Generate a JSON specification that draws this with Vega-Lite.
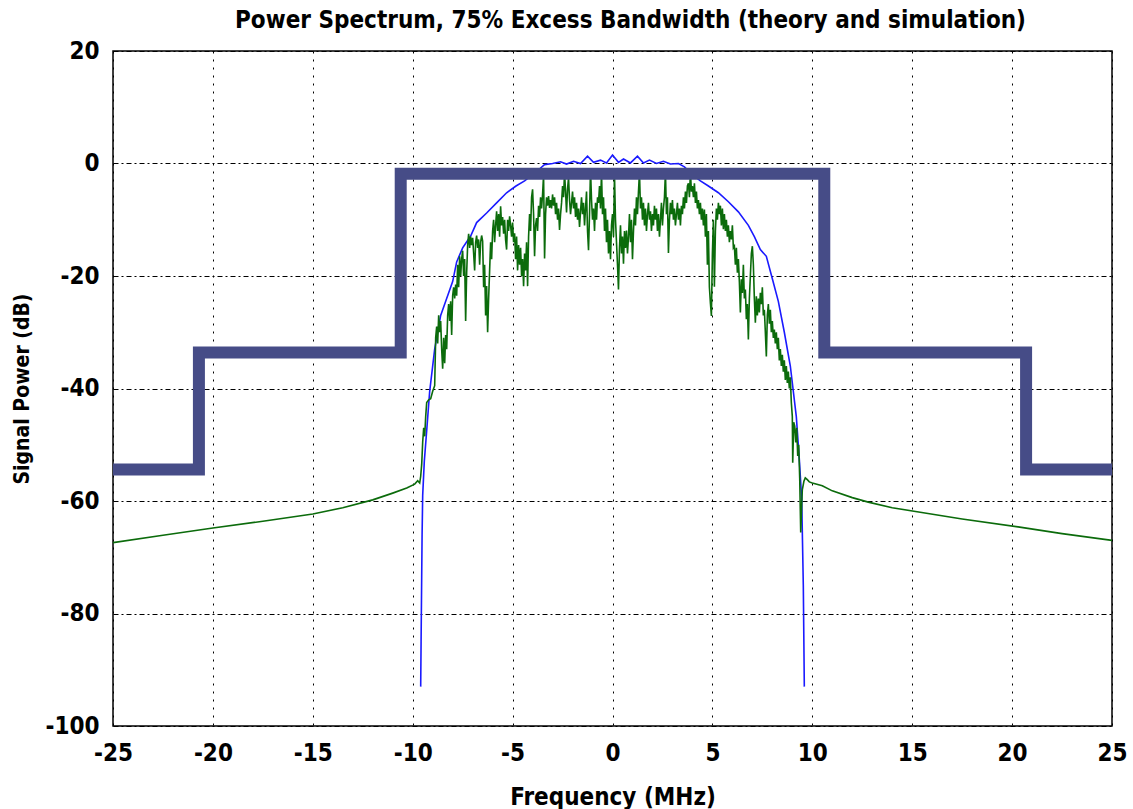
{
  "$schema": "https://vega.github.io/schema/vega-lite/v6.json",
  "autosize": {"type": "none"},
  "width": 999,
  "height": 675,
  "padding": {"left": 113, "top": 51, "right": 21, "bottom": 83},
  "background": "white",
  "config": {
    "font": "DejaVu Sans Condensed, DejaVu Sans, sans-serif",
    "view": {"stroke": "black", "strokeWidth": 1.5},
    "axis": {
      "domain": false,
      "ticks": false,
      "grid": true,
      "gridColor": "black",
      "gridOpacity": 1,
      "gridWidth": 1,
      "labelFont": "DejaVu Sans Condensed, DejaVu Sans, sans-serif",
      "labelFontSize": 24,
      "labelFontWeight": "bold",
      "labelColor": "black",
      "labelFlush": false,
      "labelExpr": "'' + datum.value",
      "titleFont": "DejaVu Sans Condensed, DejaVu Sans, sans-serif",
      "titleFontWeight": "bold",
      "titleColor": "black"
    }
  },
  "title": {
    "text": "Power Spectrum, 75% Excess Bandwidth (theory and simulation)",
    "fontSize": 24,
    "fontWeight": "bold",
    "color": "black",
    "anchor": "middle",
    "dx": 18,
    "offset": 6,
    "font": "DejaVu Sans Condensed, DejaVu Sans, sans-serif"
  },
  "datasets": {
    "mask": [
      {"f": -25, "p": -54.4}, {"f": -20.7, "p": -54.4}, {"f": -20.7, "p": -33.6},
      {"f": -10.6, "p": -33.6}, {"f": -10.6, "p": -1.8}, {"f": 10.6, "p": -1.8},
      {"f": 10.6, "p": -33.6}, {"f": 20.7, "p": -33.6}, {"f": 20.7, "p": -54.4},
      {"f": 25, "p": -54.4}
    ],
    "theory": [
      {"f": -9.6, "p": -93}, {"f": -9.58, "p": -85}, {"f": -9.55, "p": -73.5},
      {"f": -9.53, "p": -66}, {"f": -9.5, "p": -59}, {"f": -9.42, "p": -53},
      {"f": -9.3, "p": -47.5}, {"f": -9.15, "p": -40.5}, {"f": -8.9, "p": -33},
      {"f": -8.6, "p": -27}, {"f": -8.3, "p": -24}, {"f": -8.0, "p": -21},
      {"f": -7.8, "p": -17.5}, {"f": -7.5, "p": -15}, {"f": -7.1, "p": -12.9},
      {"f": -6.8, "p": -10.5}, {"f": -6.3, "p": -8.8}, {"f": -5.8, "p": -7},
      {"f": -5.3, "p": -5.2}, {"f": -4.83, "p": -4}, {"f": -4.4, "p": -3.1},
      {"f": -4.0, "p": -2}, {"f": -3.6, "p": -0.8}, {"f": -3.4, "p": -0.2},
      {"f": -3.0, "p": 0.0}, {"f": -2.6, "p": 0.3}, {"f": -2.3, "p": -0.1},
      {"f": -1.95, "p": 0.4}, {"f": -1.6, "p": 0.0}, {"f": -1.25, "p": 1.3},
      {"f": -0.95, "p": 0.2}, {"f": -0.6, "p": 0.6}, {"f": -0.3, "p": 0.1},
      {"f": 0.0, "p": 1.5}, {"f": 0.3, "p": 0.2}, {"f": 0.55, "p": 0.8},
      {"f": 0.9, "p": 0.1}, {"f": 1.25, "p": 1.3}, {"f": 1.55, "p": 0.1},
      {"f": 1.85, "p": 0.6}, {"f": 2.2, "p": 0.0}, {"f": 2.55, "p": 0.4},
      {"f": 2.9, "p": -0.1}, {"f": 3.3, "p": 0.0}, {"f": 3.6, "p": -0.6},
      {"f": 4.0, "p": -2}, {"f": 4.4, "p": -3.1}, {"f": 4.8, "p": -4},
      {"f": 5.3, "p": -5.2}, {"f": 5.8, "p": -6.8}, {"f": 6.3, "p": -8.6},
      {"f": 6.8, "p": -11}, {"f": 7.1, "p": -13}, {"f": 7.4, "p": -15.3},
      {"f": 7.7, "p": -16.5}, {"f": 8.0, "p": -20.5}, {"f": 8.3, "p": -24.5},
      {"f": 8.6, "p": -30}, {"f": 8.9, "p": -36}, {"f": 9.2, "p": -45},
      {"f": 9.35, "p": -52.6}, {"f": 9.47, "p": -59.7}, {"f": 9.55, "p": -75},
      {"f": 9.6, "p": -93}
    ],
    "sim": [
      {"f": -25, "p": -67.4}, {"f": -22.5, "p": -66.1}, {"f": -20, "p": -64.8},
      {"f": -17.5, "p": -63.6}, {"f": -15, "p": -62.3}, {"f": -13.5, "p": -61.2},
      {"f": -12, "p": -59.8}, {"f": -11, "p": -58.6}, {"f": -10.3, "p": -57.7},
      {"f": -9.9, "p": -57.0}, {"f": -9.75, "p": -56.4}, {"f": -9.65, "p": -56.8},
      {"f": -9.6, "p": -55.6}, {"f": -9.55, "p": -53.5}, {"f": -9.5, "p": -49.5},
      {"f": -9.45, "p": -47}, {"f": -9.4, "p": -48.5}, {"f": -9.35, "p": -45},
      {"f": -9.3, "p": -42.5}, {"f": -9.2, "p": -42}, {"f": -9.1, "p": -41.8},
      {"f": -9.0, "p": -40.5}, {"f": -8.9, "p": -39.5}, {"f": -8.85, "p": -31},
      {"f": -8.8, "p": -29}, {"f": -8.75, "p": -32}, {"f": -8.7, "p": -27},
      {"f": -8.65, "p": -30}, {"f": -8.6, "p": -28}, {"f": -8.55, "p": -33},
      {"f": -8.5, "p": -36.5}, {"f": -8.45, "p": -31}, {"f": -8.4, "p": -35.5},
      {"f": -8.35, "p": -30.5}, {"f": -8.3, "p": -33}, {"f": -8.25, "p": -27},
      {"f": -8.2, "p": -25}, {"f": -8.15, "p": -28}, {"f": -8.1, "p": -24.5},
      {"f": -8.05, "p": -30.5}, {"f": -8.0, "p": -23.5}, {"f": -7.95, "p": -22},
      {"f": -7.9, "p": -24}, {"f": -7.85, "p": -21.5}, {"f": -7.8, "p": -23.5},
      {"f": -7.75, "p": -18}, {"f": -7.7, "p": -22}, {"f": -7.65, "p": -16.5},
      {"f": -7.6, "p": -20}, {"f": -7.55, "p": -17}, {"f": -7.5, "p": -15.5},
      {"f": -7.45, "p": -20}, {"f": -7.4, "p": -17}, {"f": -7.35, "p": -28},
      {"f": -7.3, "p": -19.5}, {"f": -7.25, "p": -14.5}, {"f": -7.2, "p": -12.5},
      {"f": -7.15, "p": -15}, {"f": -7.1, "p": -13}, {"f": -7.05, "p": -14.5},
      {"f": -7.0, "p": -13.2}, {"f": -6.95, "p": -16}, {"f": -6.9, "p": -19},
      {"f": -6.85, "p": -14}, {"f": -6.8, "p": -12.8}, {"f": -6.75, "p": -15},
      {"f": -6.7, "p": -13.5}, {"f": -6.65, "p": -18}, {"f": -6.6, "p": -14},
      {"f": -6.55, "p": -12.8}, {"f": -6.5, "p": -13.8}, {"f": -6.45, "p": -22},
      {"f": -6.4, "p": -18}, {"f": -6.35, "p": -27}, {"f": -6.3, "p": -21.8},
      {"f": -6.25, "p": -30}, {"f": -6.2, "p": -24}, {"f": -6.15, "p": -19},
      {"f": -6.1, "p": -14}, {"f": -6.05, "p": -17}, {"f": -6.0, "p": -12},
      {"f": -5.95, "p": -10}, {"f": -5.9, "p": -14}, {"f": -5.85, "p": -11},
      {"f": -5.8, "p": -8.5}, {"f": -5.75, "p": -12}, {"f": -5.7, "p": -9},
      {"f": -5.65, "p": -13}, {"f": -5.6, "p": -7.6}, {"f": -5.55, "p": -11},
      {"f": -5.5, "p": -9.5}, {"f": -5.45, "p": -12.5}, {"f": -5.4, "p": -10},
      {"f": -5.35, "p": -13.6}, {"f": -5.3, "p": -15.3}, {"f": -5.25, "p": -10},
      {"f": -5.2, "p": -12}, {"f": -5.15, "p": -9.4}, {"f": -5.1, "p": -11},
      {"f": -5.05, "p": -13}, {"f": -5.0, "p": -10.5}, {"f": -4.95, "p": -14},
      {"f": -4.9, "p": -12.4}, {"f": -4.85, "p": -17}, {"f": -4.8, "p": -13},
      {"f": -4.75, "p": -19}, {"f": -4.7, "p": -14.5}, {"f": -4.65, "p": -18},
      {"f": -4.6, "p": -15}, {"f": -4.55, "p": -20}, {"f": -4.5, "p": -17},
      {"f": -4.45, "p": -21.8}, {"f": -4.4, "p": -16}, {"f": -4.35, "p": -19},
      {"f": -4.3, "p": -14}, {"f": -4.25, "p": -21.8}, {"f": -4.2, "p": -13},
      {"f": -4.15, "p": -9}, {"f": -4.1, "p": -12}, {"f": -4.05, "p": -6},
      {"f": -4.0, "p": -4.6}, {"f": -3.95, "p": -9}, {"f": -3.9, "p": -16.5},
      {"f": -3.85, "p": -11}, {"f": -3.8, "p": -9.7}, {"f": -3.75, "p": -12},
      {"f": -3.7, "p": -7.5}, {"f": -3.65, "p": -9.5}, {"f": -3.6, "p": -6},
      {"f": -3.55, "p": -8}, {"f": -3.5, "p": -5.5}, {"f": -3.45, "p": -2},
      {"f": -3.4, "p": -16.9}, {"f": -3.35, "p": -9}, {"f": -3.3, "p": -6},
      {"f": -3.25, "p": -7.5}, {"f": -3.2, "p": -5.8}, {"f": -3.15, "p": -7.9},
      {"f": -3.1, "p": -6.5}, {"f": -3.05, "p": -8}, {"f": -3.0, "p": -5.5},
      {"f": -2.95, "p": -7.5}, {"f": -2.9, "p": -6}, {"f": -2.85, "p": -9},
      {"f": -2.8, "p": -7}, {"f": -2.75, "p": -10}, {"f": -2.7, "p": -8},
      {"f": -2.65, "p": -11.8}, {"f": -2.6, "p": -9}, {"f": -2.55, "p": -7},
      {"f": -2.5, "p": -4}, {"f": -2.45, "p": -6}, {"f": -2.4, "p": -1.5},
      {"f": -2.35, "p": -5}, {"f": -2.3, "p": -8.7}, {"f": -2.25, "p": -4.5},
      {"f": -2.2, "p": -2.5}, {"f": -2.15, "p": -6.5}, {"f": -2.1, "p": -9},
      {"f": -2.05, "p": -7}, {"f": -2.0, "p": -5}, {"f": -1.95, "p": -8},
      {"f": -1.9, "p": -6}, {"f": -1.85, "p": -9.5}, {"f": -1.8, "p": -7},
      {"f": -1.75, "p": -10}, {"f": -1.7, "p": -8}, {"f": -1.65, "p": -11.3},
      {"f": -1.6, "p": -8.5}, {"f": -1.55, "p": -6}, {"f": -1.5, "p": -9},
      {"f": -1.45, "p": -7}, {"f": -1.4, "p": -11}, {"f": -1.35, "p": -8},
      {"f": -1.3, "p": -5}, {"f": -1.25, "p": -12}, {"f": -1.2, "p": -15.4},
      {"f": -1.15, "p": -9}, {"f": -1.1, "p": -1}, {"f": -1.05, "p": -6.5},
      {"f": -1.0, "p": -10}, {"f": -0.95, "p": -8}, {"f": -0.9, "p": -12},
      {"f": -0.85, "p": -7}, {"f": -0.8, "p": -10}, {"f": -0.75, "p": -6},
      {"f": -0.7, "p": -7}, {"f": -0.65, "p": -4}, {"f": -0.6, "p": -8},
      {"f": -0.55, "p": -1.5}, {"f": -0.5, "p": -9}, {"f": -0.45, "p": -6},
      {"f": -0.4, "p": -12}, {"f": -0.35, "p": -8}, {"f": -0.3, "p": -14},
      {"f": -0.25, "p": -10}, {"f": -0.2, "p": -16}, {"f": -0.15, "p": -12},
      {"f": -0.1, "p": -17}, {"f": -0.05, "p": -11}, {"f": 0.0, "p": -9},
      {"f": 0.05, "p": -13}, {"f": 0.1, "p": -2}, {"f": 0.15, "p": -10},
      {"f": 0.2, "p": -14}, {"f": 0.25, "p": -18}, {"f": 0.3, "p": -22.4},
      {"f": 0.35, "p": -15}, {"f": 0.4, "p": -11}, {"f": 0.45, "p": -16},
      {"f": 0.5, "p": -13}, {"f": 0.55, "p": -17.8}, {"f": 0.6, "p": -12},
      {"f": 0.65, "p": -15}, {"f": 0.7, "p": -11.9}, {"f": 0.75, "p": -16},
      {"f": 0.8, "p": -13}, {"f": 0.85, "p": -9}, {"f": 0.9, "p": -14},
      {"f": 0.95, "p": -10}, {"f": 1.0, "p": -17}, {"f": 1.05, "p": -12},
      {"f": 1.1, "p": -8}, {"f": 1.15, "p": -11}, {"f": 1.2, "p": -6},
      {"f": 1.25, "p": -9}, {"f": 1.3, "p": -5}, {"f": 1.35, "p": -1.5},
      {"f": 1.4, "p": -8}, {"f": 1.45, "p": -6}, {"f": 1.5, "p": -10},
      {"f": 1.55, "p": -7}, {"f": 1.6, "p": -11}, {"f": 1.65, "p": -8},
      {"f": 1.7, "p": -12}, {"f": 1.75, "p": -9}, {"f": 1.8, "p": -7},
      {"f": 1.85, "p": -10}, {"f": 1.9, "p": -8.5}, {"f": 1.95, "p": -12},
      {"f": 2.0, "p": -9}, {"f": 2.05, "p": -11}, {"f": 2.1, "p": -7.5},
      {"f": 2.15, "p": -10}, {"f": 2.2, "p": -8}, {"f": 2.25, "p": -12},
      {"f": 2.3, "p": -9}, {"f": 2.35, "p": -13}, {"f": 2.4, "p": -10},
      {"f": 2.45, "p": -7}, {"f": 2.5, "p": -11}, {"f": 2.55, "p": -8},
      {"f": 2.6, "p": -6}, {"f": 2.65, "p": -1.5}, {"f": 2.7, "p": -9},
      {"f": 2.75, "p": -6}, {"f": 2.8, "p": -15.9}, {"f": 2.85, "p": -10},
      {"f": 2.9, "p": -7}, {"f": 2.95, "p": -9}, {"f": 3.0, "p": -6.5},
      {"f": 3.05, "p": -10}, {"f": 3.1, "p": -8}, {"f": 3.15, "p": -11},
      {"f": 3.2, "p": -9}, {"f": 3.25, "p": -7}, {"f": 3.3, "p": -10},
      {"f": 3.35, "p": -8}, {"f": 3.4, "p": -11}, {"f": 3.45, "p": -7.5},
      {"f": 3.5, "p": -9}, {"f": 3.55, "p": -6}, {"f": 3.6, "p": -8},
      {"f": 3.65, "p": -5}, {"f": 3.7, "p": -7}, {"f": 3.75, "p": -4},
      {"f": 3.8, "p": -3.5}, {"f": 3.85, "p": -6}, {"f": 3.9, "p": -1.5},
      {"f": 3.95, "p": -5}, {"f": 4.0, "p": -4}, {"f": 4.05, "p": -6},
      {"f": 4.1, "p": -3.5}, {"f": 4.15, "p": -7}, {"f": 4.2, "p": -5},
      {"f": 4.25, "p": -8}, {"f": 4.3, "p": -6.5}, {"f": 4.35, "p": -9},
      {"f": 4.4, "p": -7}, {"f": 4.45, "p": -10}, {"f": 4.5, "p": -8},
      {"f": 4.55, "p": -11}, {"f": 4.6, "p": -8.2}, {"f": 4.65, "p": -13},
      {"f": 4.7, "p": -9}, {"f": 4.75, "p": -18}, {"f": 4.8, "p": -12},
      {"f": 4.85, "p": -22}, {"f": 4.9, "p": -24.8}, {"f": 4.95, "p": -27.1},
      {"f": 5.0, "p": -16}, {"f": 5.05, "p": -10}, {"f": 5.1, "p": -21.9},
      {"f": 5.15, "p": -12}, {"f": 5.2, "p": -8}, {"f": 5.25, "p": -10},
      {"f": 5.3, "p": -7}, {"f": 5.35, "p": -9}, {"f": 5.4, "p": -7.5},
      {"f": 5.45, "p": -11}, {"f": 5.5, "p": -8}, {"f": 5.55, "p": -11.7},
      {"f": 5.6, "p": -9}, {"f": 5.65, "p": -12}, {"f": 5.7, "p": -10},
      {"f": 5.75, "p": -13}, {"f": 5.8, "p": -11}, {"f": 5.85, "p": -14},
      {"f": 5.9, "p": -12}, {"f": 5.95, "p": -13.5}, {"f": 6.0, "p": -11},
      {"f": 6.05, "p": -15}, {"f": 6.1, "p": -14.7}, {"f": 6.15, "p": -18},
      {"f": 6.2, "p": -15}, {"f": 6.25, "p": -19.4}, {"f": 6.3, "p": -17},
      {"f": 6.35, "p": -21}, {"f": 6.4, "p": -26.5}, {"f": 6.45, "p": -20.6},
      {"f": 6.5, "p": -23}, {"f": 6.55, "p": -18}, {"f": 6.6, "p": -24},
      {"f": 6.65, "p": -22.4}, {"f": 6.7, "p": -27.7}, {"f": 6.75, "p": -25},
      {"f": 6.8, "p": -31.3}, {"f": 6.85, "p": -24}, {"f": 6.9, "p": -20},
      {"f": 6.95, "p": -16}, {"f": 7.0, "p": -14.7}, {"f": 7.05, "p": -18},
      {"f": 7.1, "p": -24}, {"f": 7.15, "p": -28.3}, {"f": 7.2, "p": -23.6},
      {"f": 7.25, "p": -27}, {"f": 7.3, "p": -24}, {"f": 7.35, "p": -26.5},
      {"f": 7.4, "p": -23}, {"f": 7.45, "p": -25}, {"f": 7.5, "p": -22},
      {"f": 7.55, "p": -27}, {"f": 7.6, "p": -26}, {"f": 7.65, "p": -30},
      {"f": 7.7, "p": -34.3}, {"f": 7.75, "p": -27}, {"f": 7.8, "p": -25},
      {"f": 7.85, "p": -28.5}, {"f": 7.9, "p": -26}, {"f": 7.95, "p": -30},
      {"f": 8.0, "p": -28}, {"f": 8.05, "p": -31}, {"f": 8.1, "p": -29.5},
      {"f": 8.15, "p": -32}, {"f": 8.2, "p": -30}, {"f": 8.25, "p": -33},
      {"f": 8.3, "p": -31}, {"f": 8.35, "p": -35}, {"f": 8.4, "p": -33},
      {"f": 8.45, "p": -36}, {"f": 8.5, "p": -34}, {"f": 8.55, "p": -37},
      {"f": 8.6, "p": -35}, {"f": 8.65, "p": -38.5}, {"f": 8.7, "p": -36},
      {"f": 8.75, "p": -39}, {"f": 8.8, "p": -37}, {"f": 8.85, "p": -40},
      {"f": 8.9, "p": -38}, {"f": 8.95, "p": -42.5}, {"f": 9.0, "p": -45},
      {"f": 9.02, "p": -53.2}, {"f": 9.07, "p": -46}, {"f": 9.12, "p": -46.7},
      {"f": 9.17, "p": -49.6}, {"f": 9.22, "p": -47}, {"f": 9.27, "p": -52},
      {"f": 9.32, "p": -50}, {"f": 9.37, "p": -56}, {"f": 9.42, "p": -65.6},
      {"f": 9.5, "p": -58}, {"f": 9.58, "p": -56.5}, {"f": 9.65, "p": -55.9},
      {"f": 9.75, "p": -56.2}, {"f": 9.85, "p": -56.6}, {"f": 10.0, "p": -56.8},
      {"f": 10.5, "p": -57.3}, {"f": 11.0, "p": -58.2}, {"f": 12.0, "p": -59.4},
      {"f": 12.8, "p": -60.2}, {"f": 14.0, "p": -61.2}, {"f": 15.4, "p": -62},
      {"f": 17.5, "p": -63.2}, {"f": 20.3, "p": -64.6}, {"f": 22.5, "p": -65.8},
      {"f": 25, "p": -67}
    ]
  },
  "encoding": {
    "x": {
      "field": "f", "type": "quantitative",
      "scale": {"domain": [-25, 25], "nice": false, "zero": false},
      "axis": {
        "values": [-25, -20, -15, -10, -5, 0, 5, 10, 15, 20, 25],
        "title": "Frequency (MHz)",
        "titleFontSize": 24,
        "titlePadding": 20,
        "labelPadding": 15,
        "gridDash": [2, 6]
      }
    },
    "y": {
      "field": "p", "type": "quantitative",
      "scale": {"domain": [-100, 20], "nice": false, "zero": false},
      "axis": {
        "values": [-100, -80, -60, -40, -20, 0, 20],
        "title": "Signal Power (dB)",
        "titleFontSize": 21,
        "titlePadding": 12,
        "labelPadding": 14,
        "gridDash": [5, 3, 2, 3]
      }
    },
    "order": {"value": null}
  },
  "layer": [
    {
      "data": {"name": "theory"},
      "mark": {"type": "line", "color": "#1a1aff", "strokeWidth": 1.6, "clip": true}
    },
    {
      "data": {"name": "sim"},
      "mark": {"type": "line", "color": "#0b6b0b", "strokeWidth": 1.6, "clip": true}
    },
    {
      "data": {"name": "mask"},
      "mark": {"type": "line", "color": "#464c87", "strokeWidth": 12, "strokeJoin": "miter", "strokeCap": "square", "clip": true}
    }
  ]
}
